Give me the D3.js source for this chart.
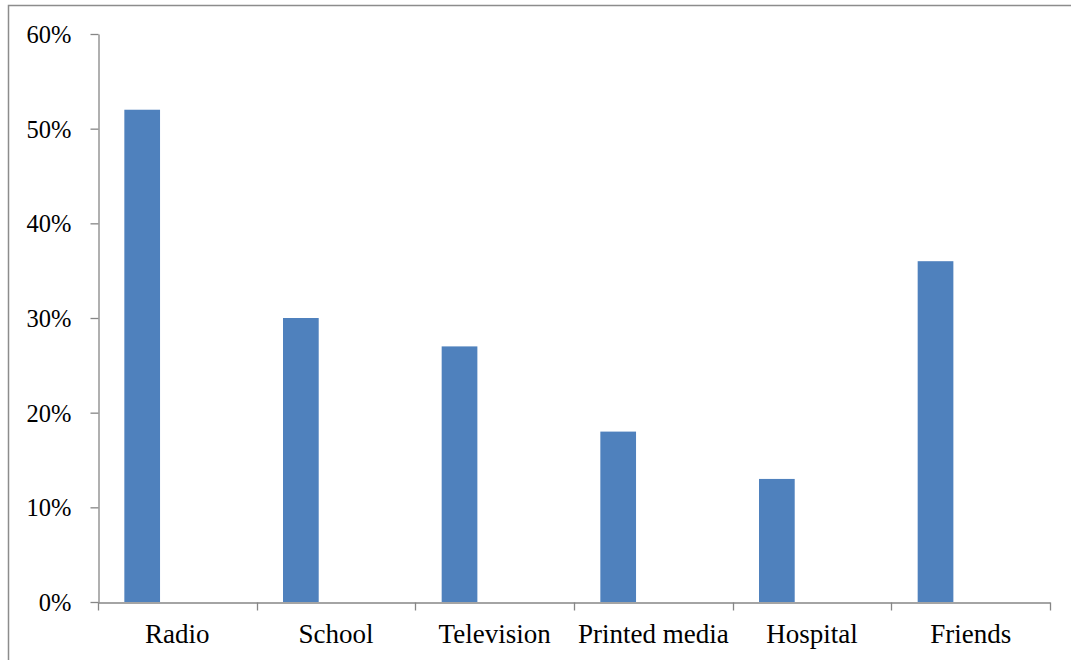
<!DOCTYPE html>
<html>
<head>
<meta charset="utf-8">
<script src="https://cdn.jsdelivr.net/npm/d3@7"></script>
<style>
  html, body { margin: 0; padding: 0; background: #fff; }
  svg { display: block; }
  text { font-family: "Liberation Serif", "Times New Roman", serif; fill: #000; }
</style>
</head>
<body>
<svg id="chart" width="1071" height="660"></svg>
<script>
// Sources of information (share of respondents)
const categories = ["Radio", "School", "Television", "Printed media", "Hospital", "Friends"];
const shares = [0.52, 0.30, 0.27, 0.18, 0.13, 0.36];
const yTicks = [0, 0.1, 0.2, 0.3, 0.4, 0.5, 0.6];

const svg = d3.select("#chart");
const W = 1071, H = 660;
const plot = { left: 98, right: 1050, top: 34, bottom: 602 };
const axisColor = "#868686";
const barColor = "#4F81BD";

// outer frame (left and top edges fall inside the canvas)
svg.append("path")
  .attr("d", `M8.5,${H} V5.5 H${W}`)
  .attr("fill", "none")
  .attr("stroke", "#8c8c8c")
  .attr("stroke-width", 1.5);

const x = d3.scaleBand().domain(categories).range([plot.left, plot.right]).padding(0);
const y = d3.scaleLinear().domain([0, 0.6]).range([plot.bottom, plot.top]);

// bars sit left of centre in each category slot
const bw = x.bandwidth();
svg.append("g")
  .selectAll("rect")
  .data(categories.map((c, i) => ({ c, v: shares[i] })))
  .join("rect")
  .attr("x", d => x(d.c) + bw * 0.166)
  .attr("width", bw * 0.225)
  .attr("y", d => y(d.v))
  .attr("height", d => y(0) - y(d.v))
  .attr("fill", barColor);

// y axis
const yAxis = svg.append("g")
  .attr("transform", `translate(${plot.left + 0.5},0)`)
  .call(d3.axisLeft(y).tickValues(yTicks).tickFormat(d3.format(".0%")).tickSize(8).tickSizeOuter(0).tickPadding(19));
yAxis.select(".domain").attr("stroke", axisColor).attr("stroke-width", 1.3);
yAxis.selectAll(".tick line").attr("stroke", axisColor).attr("stroke-width", 1.3);
yAxis.selectAll(".tick text")
  .attr("font-size", 24.5)
  .attr("dy", "0.34em");

// x axis: labels centred in slots, ticks at slot boundaries
const xAxis = svg.append("g")
  .attr("transform", `translate(0,${plot.bottom + 0.5})`)
  .call(d3.axisBottom(x).tickSize(0).tickSizeOuter(0).tickPadding(21));
xAxis.select(".domain").attr("stroke", axisColor).attr("stroke-width", 1.3);
xAxis.selectAll(".tick text")
  .attr("font-size", 27);

const bounds = categories.map(c => x(c)).concat([x.range()[1]]);
xAxis.append("g")
  .selectAll("line")
  .data(bounds)
  .join("line")
  .attr("x1", d => Math.round(d) + 0.5)
  .attr("x2", d => Math.round(d) + 0.5)
  .attr("y1", 0)
  .attr("y2", 8)
  .attr("stroke", axisColor)
  .attr("stroke-width", 1.3);
</script>
</body>
</html>
